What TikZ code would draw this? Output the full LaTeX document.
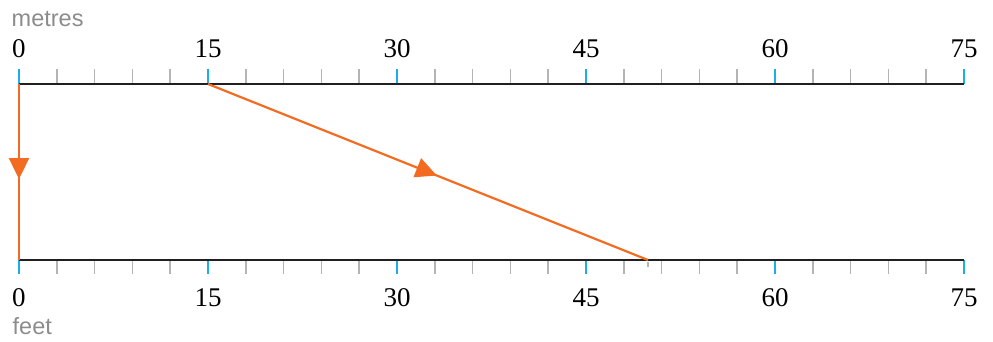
\documentclass[tikz,border=0pt]{standalone}
\usepackage{fontspec}
\setmainfont{Liberation Serif}
\newfontfamily\labsans{Liberation Sans}
\usetikzlibrary{arrows.meta,decorations.markings}
\definecolor{axorange}{HTML}{F26B21}
\definecolor{axblue}{HTML}{1AAFE6}
\definecolor{axgray}{HTML}{B4B4B4}
\definecolor{labgray}{HTML}{8C8C8C}
\definecolor{axblack}{HTML}{231F20}
\tikzset{
  axisline/.style={draw=axblack,line width=2pt},
  minortick/.style={draw=axgray,line width=1.6pt},
  majortick/.style={draw=axblue,line width=2pt},
  numlab/.style={inner sep=0pt,anchor=base,font=\fontsize{27}{27}\selectfont,text=black},
  unitlab/.style={inner sep=0pt,anchor=base west,font=\labsans\fontsize{23.5}{23.5}\selectfont,text=labgray},
  conv/.style={draw=axorange,line width=2.2pt,postaction={decorate},
    decoration={markings,mark=at position #1 with {\arrow[axorange]{Triangle[length=21pt,width=20pt]}}}},
}
\begin{document}
\begin{tikzpicture}[x=1pt,y=-1pt]
\useasboundingbox (0,0) rectangle (993,342);
% axes
\coordinate (mL) at (19,84);
\coordinate (mR) at (964,84);
\coordinate (fL) at (19,260);
\coordinate (fR) at (964,260);
% minor ticks
\foreach \i in {1,...,24}{
  \pgfmathsetmacro\xx{19+\i*37.8}
  \draw[minortick] (\xx,69) -- (\xx,84);
  \draw[minortick] (\xx,260) -- (\xx,274);
}
% major ticks and labels
\foreach \v [count=\k from 0] in {0,15,30,45,60,75}{
  \pgfmathsetmacro\xx{19+\k*189}
  \draw[majortick] (\xx,69) -- (\xx,84);
  \draw[majortick] (\xx,260) -- (\xx,274);
  \node[numlab] (mt\v) at (\xx,58) {\v};
  \node[numlab] (ft\v) at (\xx,306) {\v};
}
\draw[axisline] (mL) -- (mR);
\draw[axisline] (fL) -- (fR);
\node[unitlab] (metres) at (11.5,27) {metres};
\node[unitlab] (feet) at (12.5,334) {feet};
% conversion points
\coordinate (m0) at (19,84);
\coordinate (f0) at (19,260);
\coordinate (m15) at (208,84);
\coordinate (f49) at (648,260);
\draw[minortick,line width=1.2pt] (648,261.5) -- (648,267);
\draw[conv=0.54] (m0) -- (f0);
\draw[conv=0.52] (m15) -- (f49);
\end{tikzpicture}
\end{document}
